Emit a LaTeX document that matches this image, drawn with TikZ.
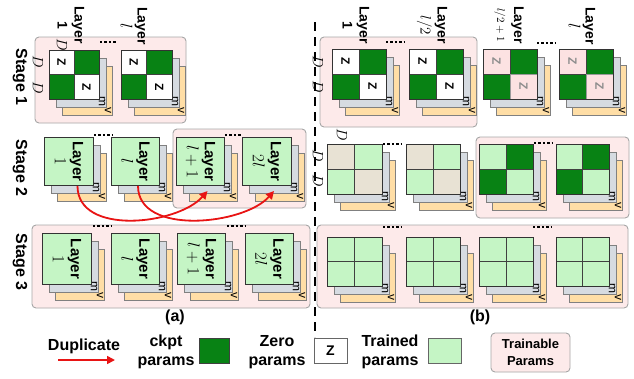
\RequirePackage{fix-cm}
\documentclass[tikz,border=0pt]{standalone}
\usepackage{graphicx}
\usepackage{fontspec}
\setmainfont{Liberation Sans}
\usetikzlibrary{arrows.meta}
\definecolor{dgreen}{RGB}{8,130,20}
\definecolor{lgreen}{RGB}{197,245,197}
\definecolor{glayer}{RGB}{214,219,225}
\definecolor{olayer}{RGB}{255,222,166}
\definecolor{pinkbg}{RGB}{253,234,234}
\definecolor{beige}{RGB}{232,226,212}
\definecolor{zpink}{RGB}{252,226,226}
\definecolor{dupred}{RGB}{232,20,20}
\newcommand\fs[2]{\fontsize{#1}{#2}\selectfont}
\newcommand\txtczc{\rotatebox{-90}{Z}}
\newcommand\txtczp{\rotatebox{-90}{Z}}
\newcommand\txtcdg{}
\newcommand\txtclg{}
\newcommand\txtcbg{}
\newcommand\mth[1]{{\fs{17}{18}$#1$}}
\tikzset{
  panel/.style={draw=black!35, fill=pinkbg, rounded corners=4pt, line width=0.9pt},
  back1/.style={draw=black!50, fill=glayer, line width=0.8pt},
  back2/.style={draw=black!50, fill=olayer, line width=0.8pt},
  mv/.style={rotate=-90, inner sep=0pt, font=\fs{12}{12}},
  cell/.style={draw=black!75, line width=1pt, inner sep=0pt, outer sep=0pt},
  czc/.style={fill=white, font=\fs{12}{12}\bfseries},
  czp/.style={fill=zpink, draw=black!40, text=black!45, font=\fs{12}{12}\bfseries},
  cdg/.style={fill=dgreen},
  clg/.style={fill=lgreen},
  cbg/.style={fill=beige},
  frame/.style={draw=black!80, line width=1pt},
  gblk/.style={draw=black!80, fill=lgreen, line width=1pt, inner sep=0pt, anchor=north west},
  lbl/.style={rotate=-90, align=center, inner sep=0pt, font=\fs{14}{17}\bfseries},
  glbl/.style={rotate=-90, align=center, inner sep=0pt, font=\fs{15}{18}\bfseries},
  dl/.style={rotate=-90, inner sep=0pt, font=\fs{15}{15}},
  stage/.style={rotate=-90, inner sep=0pt, font=\fs{16}{18}\bfseries},
  dots/.style={line width=2.6pt, dash pattern=on 2.4pt off 2pt},
  dup/.style={draw=dupred, line width=1.8pt, -{Triangle[length=8pt,width=8pt]}},
  leg/.style={align=center, inner sep=0pt, font=\fs{16}{19}\bfseries},
  sep/.style={draw=black, line width=1.1pt, dash pattern=on 9pt off 6pt},
}
% name, x, y, w, h : back layers
\newcommand{\stk}[5]{%
  \path[back2] (#2+13,#3+16) rectangle +(#4,#5);
  \node[mv] (#1v) at (#2+13+#4-4,#3+16+#5-5) {v};
  \path[back1] (#2+7,#3+8) rectangle +(#4,#5);
  \node[mv] (#1m) at (#2+7+#4-4,#3+8+#5-6) {m};
}
% name, x, y, w, h, TL, TR, BL, BR
\newcommand{\grd}[9]{%
  \node[cell,#6,minimum width=#4/2,minimum height=#5/2,anchor=north west] (#1-1) at (#2,#3) {\csname txt#6\endcsname};
  \node[cell,#7,minimum width=#4/2,minimum height=#5/2,anchor=north west] (#1-2) at (#2+#4/2,#3) {\csname txt#7\endcsname};
  \node[cell,#8,minimum width=#4/2,minimum height=#5/2,anchor=north west] (#1-3) at (#2,#3+#5/2) {\csname txt#8\endcsname};
  \node[cell,#9,minimum width=#4/2,minimum height=#5/2,anchor=north west] (#1-4) at (#2+#4/2,#3+#5/2) {\csname txt#9\endcsname};
  \draw[frame] (#2,#3) rectangle +(#4,#5);
}
\begin{document}
\begin{tikzpicture}[x=1pt,y=-1pt]
\useasboundingbox (0,0) rectangle (634,378);
% ---------- panels ----------
\path[panel] (35,37) rectangle (186,123);
\path[panel] (173,129) rectangle (306,208);
\path[panel] (32,225) rectangle (310,308);
\path[panel] (320,37) rectangle (477,127);
\path[panel] (476,137) rectangle (629,218);
\path[panel] (317,225) rectangle (628,308);
% separator
\coordinate (s1) at (315,22);
\coordinate (s2) at (315,337);
\draw[sep] (s1) -- (s2);
% stage labels
\node[stage] (st1) at (20,77) {Stage 1};
\node[stage] (st2) at (20,168) {Stage 2};
\node[stage] (st3) at (20,262) {Stage 3};
% ---------- (a) stage 1 ----------
\stk{a11}{49}{50}{50}{49}
\grd{a11}{49}{50}{50}{49}{czc}{cdg}{cdg}{czc}
\stk{a12}{121}{50}{51}{49}
\grd{a12}{121}{50}{51}{49}{czc}{cdg}{cdg}{czc}
\node[lbl] (la11) at (71,25) {Layer\\1};
\node[lbl] (la12) at (134,26) {Layer\\\mth{l}};
\draw[dots] (100,42) -- (117,42);
\node[dl] (d1) at (62,45) {$D$};
\node[dl] (d2) at (38,62) {$D$};
\node[dl] (d3) at (38,88) {$D$};
% ---------- (a) stage 2 ----------
\stk{a21}{44}{137}{49}{48}
\node[gblk, minimum width=49, minimum height=48] (a21) at (44,137) {};
\stk{a22}{111}{137}{48}{48}
\node[gblk, minimum width=48, minimum height=48] (a22) at (111,137) {};
\stk{a23}{176}{137}{48}{48}
\node[gblk, minimum width=48, minimum height=48] (a23) at (176,137) {};
\stk{a24}{242}{137}{49}{48}
\node[gblk, minimum width=49, minimum height=48] (a24) at (242,137) {};
\node[glbl] at (a21.center) {Layer\\\mth{1}};
\node[glbl] at (a22.center) {Layer\\\mth{l}};
\node[glbl] at (a23.center) {Layer\\\mth{l+1}};
\node[glbl] at (a24.center) {Layer\\\mth{2l}};
\draw[dots] (94,135) -- (112,135);
\draw[dots] (225,135) -- (242,135);
\draw[dup] ([xshift=8.5]a21.south) .. controls +(0,50) and +(-30,34) .. ([xshift=7,yshift=-5]a23.south);
\draw[dup] ([xshift=2.5]a22.south) .. controls +(0,50) and +(-30,34) .. ([xshift=7,yshift=-5]a24.south);
% ---------- (a) stage 3 ----------
\stk{a31}{42}{233}{49}{51}
\node[gblk, minimum width=49, minimum height=51] (a31) at (42,233) {};
\stk{a32}{111}{233}{48}{51}
\node[gblk, minimum width=48, minimum height=51] (a32) at (111,233) {};
\stk{a33}{177}{233}{48}{51}
\node[gblk, minimum width=48, minimum height=51] (a33) at (177,233) {};
\stk{a34}{245}{233}{48}{51}
\node[gblk, minimum width=48, minimum height=51] (a34) at (245,233) {};
\node[glbl] at (a31.center) {Layer\\\mth{1}};
\node[glbl] at (a32.center) {Layer\\\mth{l}};
\node[glbl] at (a33.center) {Layer\\\mth{l+1}};
\node[glbl] at (a34.center) {Layer\\\mth{2l}};
\draw[dots] (93,226) -- (111,226);
\draw[dots] (227,226) -- (245,226);
% ---------- (b) stage 1 ----------
\stk{b11}{332}{49}{54}{50}
\grd{b11}{332}{49}{54}{50}{czc}{cdg}{cdg}{czc}
\stk{b12}{409}{49}{54}{50}
\grd{b12}{409}{49}{54}{50}{czc}{cdg}{cdg}{czc}
\stk{b13}{483}{49}{54}{50}
\grd{b13}{483}{49}{54}{50}{czp}{cdg}{cdg}{czp}
\stk{b14}{559}{49}{54}{50}
\grd{b14}{559}{49}{54}{50}{czp}{cdg}{cdg}{czp}
\node[lbl] (lb11) at (356,25) {Layer\\1};
\node[lbl] (lb12) at (432,25) {Layer\\{\fs{15}{15}$l/2$}};
\node[lbl] (lb13) at (509,25) {Layer\\{\fs{11}{11}$l/2+1$}};
\node[lbl] (lb14) at (582,26) {Layer\\\mth{l}};
\draw[dots] (386,42) -- (405,42);
\draw[dots] (537,43) -- (556,43);
\node[dl] (d4) at (318,62) {$D$};
\node[dl] (d5) at (318,87) {$D$};
% ---------- (b) stage 2 ----------
\stk{b21}{327}{144}{55}{50}
\grd{b21}{327}{144}{55}{50}{cbg}{clg}{clg}{cbg}
\stk{b22}{406}{144}{54}{50}
\grd{b22}{406}{144}{54}{50}{cbg}{clg}{clg}{cbg}
\stk{b23}{479}{144}{54}{50}
\grd{b23}{479}{144}{54}{50}{clg}{cdg}{cdg}{clg}
\stk{b24}{556}{144}{53}{50}
\grd{b24}{556}{144}{53}{50}{clg}{cdg}{cdg}{clg}
\draw[dots] (383,144) -- (402,144);
\draw[dots] (534,143) -- (553,143);
\node[dl] (d6) at (342,135) {$D$};
\node[dl] (d7) at (318,156) {$D$};
\node[dl] (d8) at (318,181) {$D$};
% ---------- (b) stage 3 ----------
\stk{b31}{327}{237}{55}{49}
\grd{b31}{327}{237}{55}{49}{clg}{clg}{clg}{clg}
\stk{b32}{406}{237}{54}{49}
\grd{b32}{406}{237}{54}{49}{clg}{clg}{clg}{clg}
\stk{b33}{479}{237}{54}{49}
\grd{b33}{479}{237}{54}{49}{clg}{clg}{clg}{clg}
\stk{b34}{556}{237}{53}{49}
\grd{b34}{556}{237}{53}{49}{clg}{clg}{clg}{clg}
\draw[dots] (383,227) -- (402,227);
\draw[dots] (533,227) -- (552,227);
% captions
\node[leg] (capa) at (175,317) {(a)};
\node[leg] (capb) at (480,317) {(b)};
% ---------- legend ----------
\node[leg] (ldup) at (84,346) {Duplicate};
\coordinate (la1) at (58,360);
\coordinate (la2) at (115,360);
\draw[dup, line width=1.6pt] (la1) -- (la2);
\node[leg] (lckpt) at (166,352) {ckpt\\params};
\node[cell, fill=dgreen, minimum width=30, minimum height=25, anchor=north west] (sqckpt) at (199,338) {};
\node[leg] (lzero) at (277,352) {Zero\\params};
\node[cell, draw=black!60, fill=white, minimum width=33, minimum height=25, anchor=north west, font=\fs{14}{14}\bfseries] (sqzero) at (314,338) {Z};
\node[leg] (ltrain) at (390,352) {Trained\\params};
\node[cell, draw=black!60, fill=lgreen, minimum width=33, minimum height=25, anchor=north west] (sqtrain) at (428,338) {};
\node[draw=black!35, fill=pinkbg, rounded corners=4pt, line width=0.9pt, minimum width=79, minimum height=39, align=center, font=\fs{13}{17}\bfseries] (ltp) at (530.5,352.5) {Trainable\\Params};
\end{tikzpicture}
\end{document}
